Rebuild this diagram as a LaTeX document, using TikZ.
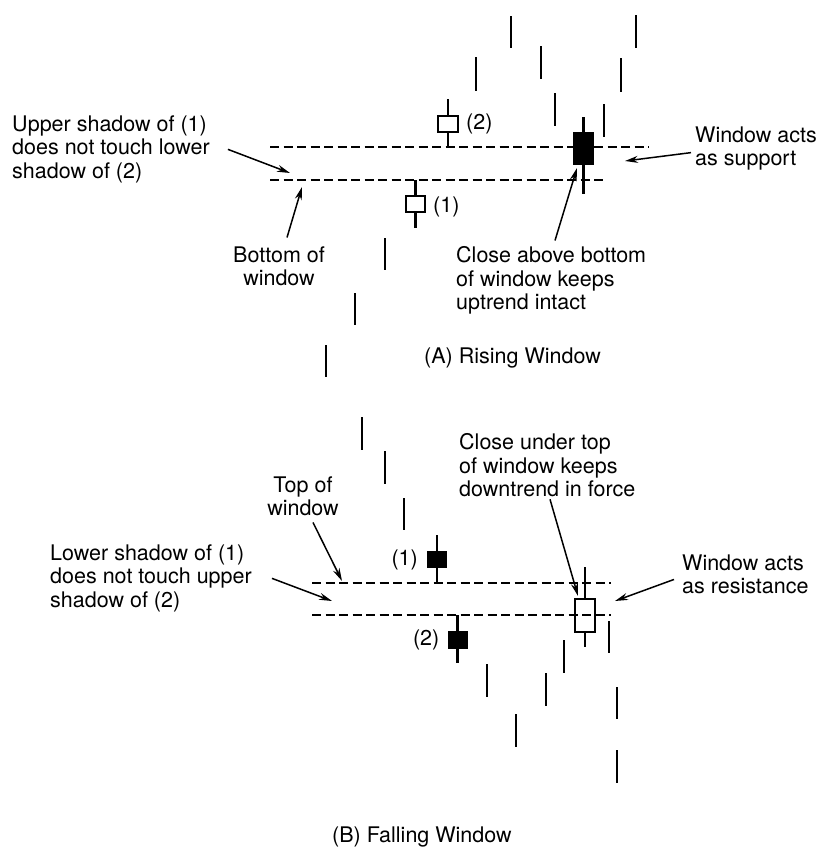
\documentclass[tikz,border=0pt]{standalone}
\usepackage{fontspec}
\setmainfont{TeX Gyre Heros}
\usetikzlibrary{arrows.meta, positioning}
\tikzstyle{txt} = [inner sep=0pt,
align=left,
anchor=north west]
\tikzstyle{tag} = [inner sep=0pt]
\tikzstyle{whitebody} = [rectangle,
draw=black,
fill=white,
line width=2pt,
inner sep=0pt]
\tikzstyle{blackbody} = [rectangle,
draw=black,
fill=black,
line width=2pt,
inner sep=0pt]
\tikzstyle{bar} = [line width=2.2pt]
\tikzstyle{windowline} = [line width=1.7pt,
dash pattern=on 9pt off 4.5pt]
\tikzstyle{pointer} = [line width=1.5pt, ->]

\begin{document}
\begin{tikzpicture}[x=1pt, y=-1pt,
    >={Stealth[length=13pt,width=7pt]},
    font=\fontsize{21.5}{23.5}\selectfont
    ]
    \useasboundingbox (0,0) rectangle (818,849);

    % price bars
    \foreach \x/\a/\b in {511/16/48, 476/57/91, 541/46/79, 636/15/48, 621/58/92,
        555/93/126, 604/104/137, 385/238/270, 355/293/325, 326/345/377,
        362/417/450, 385/451/484, 404/498/530, 609/621/653, 564/640/673,
        487/664/697, 546/673/706, 516/714/747, 617/687/719, 617/750/783}
        \draw[bar] (\x,\a) -- (\x,\b);

    % wicks
    \foreach \x/\a/\b in {448/99/147, 415.5/180/228, 583.5/117/194,
        437/535/583, 457.5/615/663, 585/567/647}
        \draw[bar] (\x,\a) -- (\x,\b);

    % (A) rising window
    \node (c2) [whitebody, minimum width=20pt, minimum height=16pt] at (448,124) {};
    \node (c2tag) [tag, right=7pt of c2] {(2)};
    \node (c1) [whitebody, minimum width=19pt, minimum height=16pt] at (415.5,204) {};
    \node (c1tag) [tag, right=7pt of c1, yshift=-3pt] {(1)};
    \node (cup) [blackbody, minimum width=19pt, minimum height=31pt] at (583.5,148.5) {};

    \coordinate (atl) at (270,147);
    \coordinate (atr) at (649,147);
    \coordinate (abl) at (270,180);
    \coordinate (abr) at (605,180);
    \draw[windowline] (atl) -- (atr);
    \draw[windowline] (abl) -- (abr);

    \node (upper) [txt] at (12,115.5) {Upper shadow of (1)\\does not touch lower\\shadow of (2)};
    \node (bottomwin) [inner sep=0pt, align=center, anchor=north] at (279,246.5) {Bottom of\\window};
    \node (closeabove) [txt] at (456,246.5) {Close above bottom\\of window keeps\\uptrend intact};
    \node (support) [txt] at (695,126.5) {Window acts\\as support};
    \node (rising) [tag, anchor=west] at (424,358) {(A) Rising Window};

    \coordinate (gapA) at (290,173);
    \coordinate (bottomA) at (302,187);
    \coordinate (closeA) at (577,168);
    \coordinate (supportA) at (625,161);

    % arrows
    \draw[pointer] ([xshift=18pt]upper.east) -- (gapA);
    \draw[pointer] ([xshift=8pt,yshift=9pt]bottomwin.north) -- (bottomA);
    \draw[pointer] ([xshift=99pt,yshift=6pt]closeabove.north west) -- (closeA);
    \draw[pointer] ([xshift=-4pt,yshift=-4pt]support.west) -- (supportA);

    % (B) falling window
    \node (d1) [blackbody, minimum width=18pt, minimum height=15pt] at (437,559.5) {};
    \node (d1tag) [tag, left=9pt of d1] {(1)};
    \node (d2) [blackbody, minimum width=18pt, minimum height=16pt] at (457.5,640) {};
    \node (d2tag) [tag, left=8pt of d2] {(2)};
    \node (cdown) [whitebody, minimum width=20pt, minimum height=33pt] at (585,615.5) {};

    \coordinate (btl) at (312,583);
    \coordinate (btr) at (611,583);
    \coordinate (bbl) at (312,615);
    \coordinate (bbr) at (611,615);
    \draw[windowline] (btl) -- (btr);
    \draw[windowline] (bbl) -- (bbr);

    \node (lower) [txt] at (50,544.5) {Lower shadow of (1)\\does not touch upper\\shadow of (2)};
    \node (topwin) [inner sep=0pt, align=center, anchor=north] at (303,476.5) {Top of\\window};
    \node (closeunder) [txt] at (459,433.5) {Close under top\\of window keeps\\downtrend in force};
    \node (resist) [txt] at (682,554.5) {Window acts\\as resistance};
    \node (falling) [tag, anchor=west] at (332,837) {(B) Falling Window};

    \coordinate (gapB) at (332,601);
    \coordinate (topB) at (342,581);
    \coordinate (closeB) at (578,596);
    \coordinate (resistB) at (615,601);

    \draw[pointer] ([xshift=20pt]lower.east) -- (gapB);
    \draw[pointer] ([xshift=10pt,yshift=-6pt]topwin.south) -- (topB);
    \draw[pointer] ([xshift=91pt,yshift=-2pt]closeunder.south west) -- (closeB);
    \draw[pointer] ([xshift=-8pt,yshift=-5pt]resist.west) -- (resistB);

\end{tikzpicture}
\end{document}
